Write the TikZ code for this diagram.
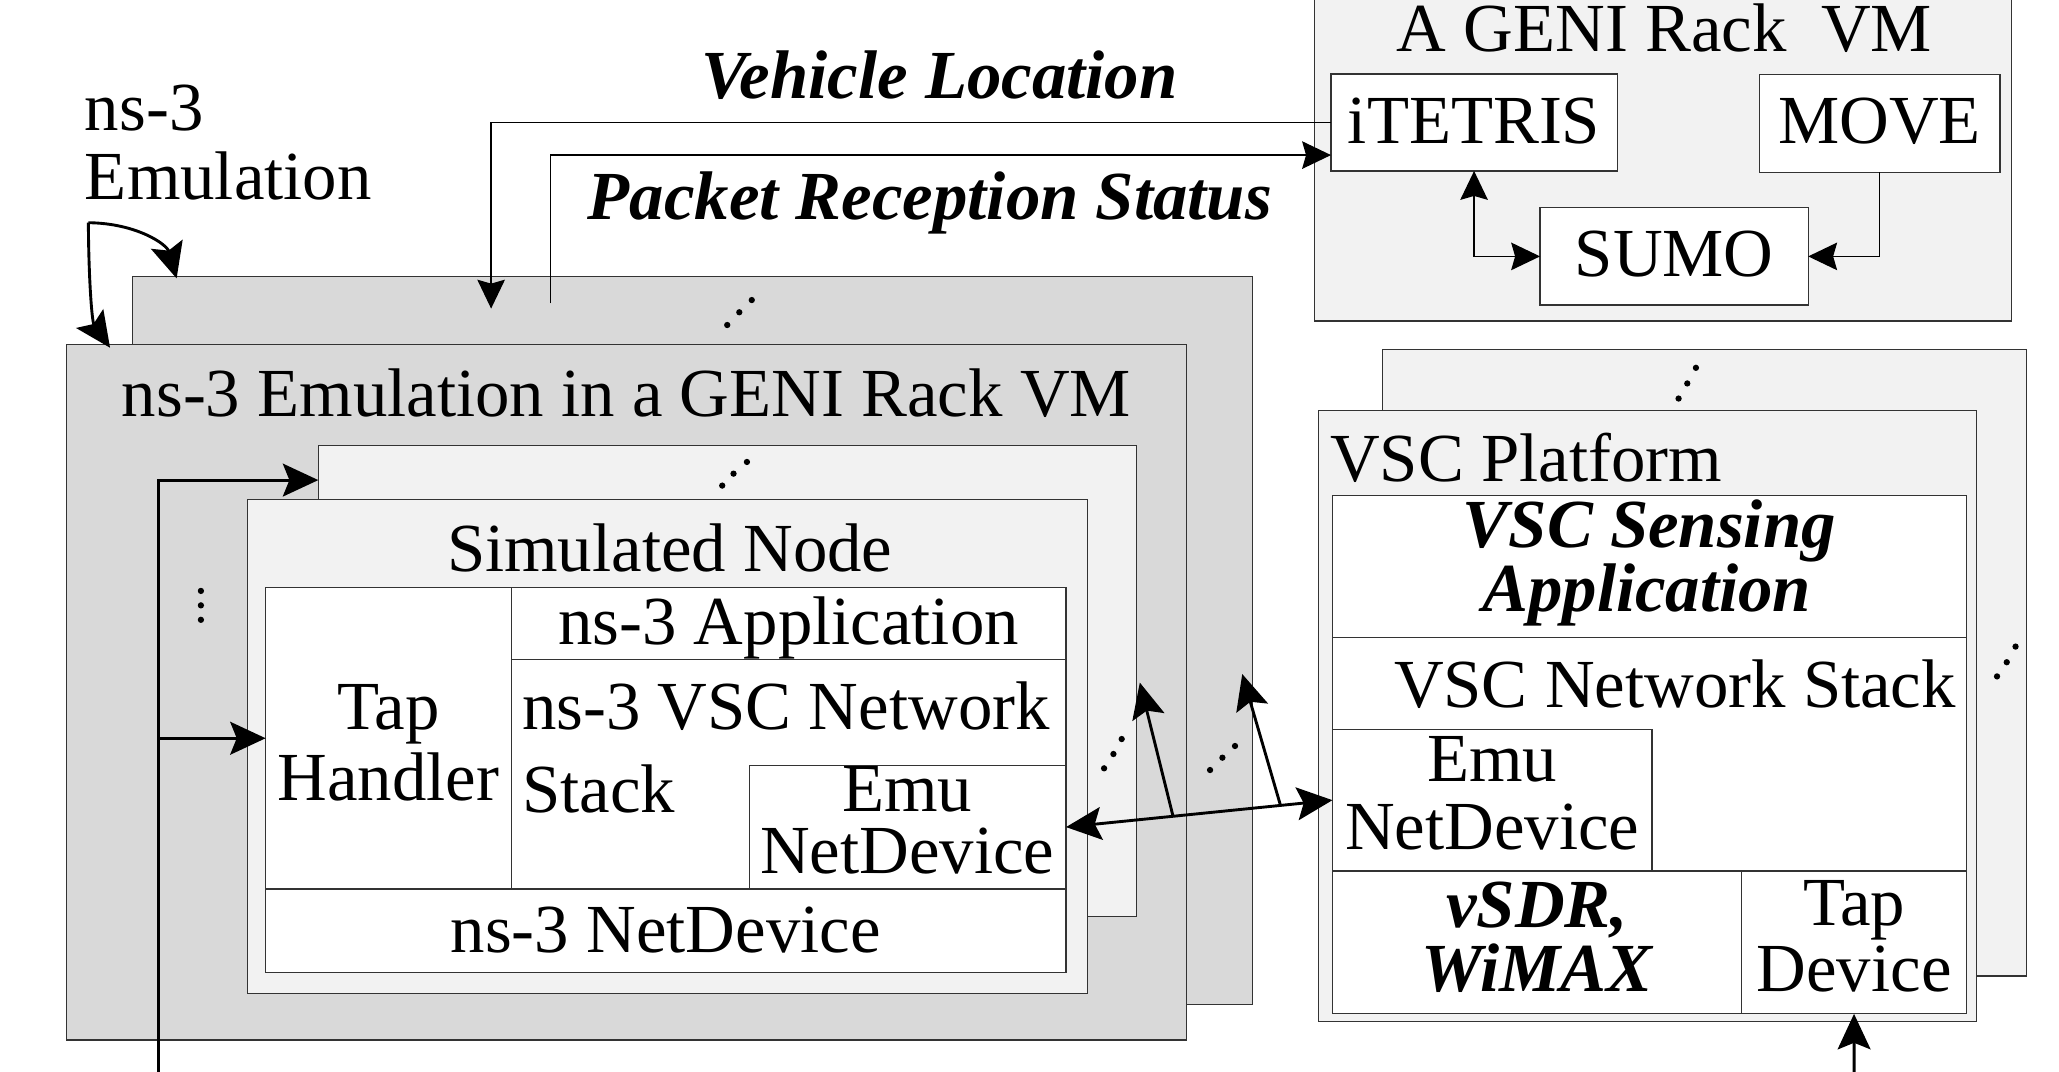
\documentclass[tikz,border=0pt]{standalone}
\usepackage{fontspec}
\setmainfont{Liberation Serif}
\usetikzlibrary{arrows.meta,calc}
\definecolor{bgA}{HTML}{D9D9D9}
\definecolor{bgB}{HTML}{F2F2F2}
\definecolor{edgecol}{HTML}{333333}
\newcommand{\bxn}[6]{\node[#1, minimum width={#5-#3}, minimum height={#6-#4}] (#2) at (#3,#4) {};}
\tikzset{
  box/.style={draw=edgecol, line width=0.9pt, inner sep=0pt, outer sep=0pt, anchor=north west},
  boxA/.style={box, fill=bgA},
  boxB/.style={box, fill=bgB},
  boxW/.style={box, fill=white},
  lbl/.style={font=\fontsize{52.4}{56}\selectfont, inner sep=0pt, outer sep=0pt, text=black},
  lblbi/.style={lbl, font=\fontsize{52.4}{56}\selectfont\bfseries\itshape},
  bigtip/.tip={Stealth[length=27pt, width=25pt, inset=5pt]},
  smalltip/.tip={Stealth[length=22pt, width=21pt, inset=3pt]},
  thickarr/.style={line width=2.2pt, draw=black, -bigtip},
  thinarr/.style={line width=1pt, draw=black, -smalltip},
  thinline/.style={line width=1pt, draw=black},
  dotmark/.style={fill=black}
}
\begin{document}
\begin{tikzpicture}[x=1pt, y=-1pt]
\useasboundingbox (0,0) rectangle (1568,816);
\fill[white] (0,0) rectangle (1568,816);

% ---------- ns-3 emulation VMs ----------
\bxn{boxA}{emuback}{100.8}{210.7}{953.6}{765}
\bxn{boxA}{emufront}{50.8}{262.2}{903.7}{792}
\node[lbl, anchor=base] (emutitle) at (477,317) {ns-3 Emulation in a GENI Rack VM};

% simulated nodes
\bxn{boxB}{simback}{242.4}{339.5}{865.6}{698}
\bxn{boxB}{simfront}{188.7}{380.2}{828}{756.7}
\node[lbl, anchor=base] (simtitle) at (510,435) {Simulated Node};

\bxn{boxW}{taph}{202.3}{447.4}{389.3}{677}
\bxn{boxW}{app}{389.3}{447.4}{811.8}{502}
\bxn{boxW}{stack}{389.3}{502}{811.8}{677}
\bxn{boxW}{emu}{570.5}{582.7}{811.8}{677}
\bxn{boxW}{netdev}{202.3}{677}{811.8}{740.8}

\node[lbl, anchor=base] (taph1) at (295.8,555.6) {Tap};
\node[lbl, anchor=base] (taph2) at (295.8,609.4) {Handler};
\node[lbl, anchor=base] (appt) at (600.5,490.5) {ns-3 Application};
\node[lbl, anchor=base west] (stack1) at (397.7,555.6) {ns-3 VSC Network};
\node[lbl, anchor=base west] (stack2) at (397.7,619) {Stack};
\node[lbl, anchor=base] (emu1) at (691,617.7) {Emu};
\node[lbl, anchor=base] (emu2) at (691,665) {NetDevice};
\node[lbl, anchor=base] (netdevt) at (507,725) {ns-3 NetDevice};

% ---------- GENI rack VM with iTETRIS ----------
\bxn{boxB}{geni}{1001}{-3}{1532}{244.5}
\node[lbl, anchor=base] (genit) at (1267.5,39.4) {A GENI Rack\ \ VM};
\bxn{boxW}{itetris}{1013.6}{56.4}{1231.5}{130.2}
\bxn{boxW}{move}{1339.6}{56.9}{1523}{131.2}
\bxn{boxW}{sumo}{1172.8}{158.2}{1377}{232.3}
\node[lbl, anchor=base] (itetrist) at (1122.5,109) {iTETRIS};
\node[lbl, anchor=base] (movet) at (1431.3,109) {MOVE};
\node[lbl, anchor=base] (sumot) at (1275,210.7) {SUMO};

\draw[thinline, smalltip-smalltip] (itetris.south) |- (sumo.west);
\draw[thinarr] (move.south) |- (sumo.east);

% ---------- VSC platforms ----------
\bxn{boxB}{vscback}{1052.7}{266.4}{1543}{743.3}
\bxn{boxB}{vscfront}{1004}{312.5}{1505}{778}
\node[lbl, anchor=base west] (vsct) at (1013,366.4) {VSC Platform};
\bxn{boxW}{vapp}{1014.7}{377.3}{1497.6}{485.3}
\bxn{boxW}{vstack}{1014.7}{485.3}{1497.6}{663.3}
\bxn{boxW}{vemu}{1014.7}{555.4}{1258}{663.3}
\bxn{boxW}{vsdr}{1014.7}{663.3}{1326.2}{772.1}
\bxn{boxW}{tapdev}{1326.2}{663.3}{1497.6}{772.1}

\node[lblbi, anchor=base, text depth=0pt] (vapp1) at (1256,417) {VSC Sensing};
\node[lblbi, anchor=base, text height=31pt] (vapp2) at (1254,466) {Application};
\node[lbl, anchor=base east] (vstackt) at (1489.5,539) {VSC Network Stack};
\node[lbl, anchor=base] (vemu1) at (1136.5,594.8) {Emu};
\node[lbl, anchor=base] (vemu2) at (1136.5,647) {NetDevice};
\node[lblbi, anchor=base] (vsdr1) at (1170.5,706.6) {vSDR,};
\node[lblbi, anchor=base] (vsdr2) at (1170.5,755.2) {WiMAX};
\node[lbl, anchor=base] (tapd1) at (1412,704.8) {Tap};
\node[lbl, anchor=base] (tapd2) at (1412,755.2) {Device};

% ---------- free labels ----------
\node[lbl, anchor=base west] (nsl1) at (64.7,99) {ns-3};
\node[lbl, anchor=base west] (nsl2) at (64.7,152.3) {Emulation};
\node[lblbi, anchor=base] (vehl) at (715.5,74.9) {Vehicle Location};
\node[lblbi, anchor=base] (pktl) at (708,167.5) {Packet Reception Status};

% ---------- connectors ----------
\coordinate (vl) at (374,235);
\coordinate (pr) at (419,231);
\draw[thinarr] (itetris.west) -| (vl);
\draw[thinarr] (pr) |- ([yshift=-24.8pt]itetris.west);

\coordinate (cs) at (67.3,169.6);
\coordinate (ctr) at (134.5,212);
\coordinate (cdn) at (83.8,264.8);
\draw[thickarr] (cs) .. controls (104,170) and (127,186) .. (ctr);
\draw[thickarr] (cs) .. controls (67.5,212) and (70,245) .. (cdn);

\coordinate (bl) at (120.7,830);
\draw[thickarr] (bl) |- ([yshift=-26.1pt]simback.north west);
\draw[thickarr] (bl |- taph.west) -- (taph.west);

\coordinate (br) at (1412,830);
\draw[thickarr] (br) -- (tapdev.south);

\draw[line width=2.2pt, bigtip-bigtip] (emu.east) -- (vemu.west);
\coordinate (b1) at ($(emu.east)!0.4017!(vemu.west)$);
\coordinate (b2) at ($(emu.east)!0.805!(vemu.west)$);
\coordinate (t1) at (868,519.8);
\coordinate (t2) at (946,513.3);
\draw[thickarr] (b1) -- (t1);
\draw[thickarr] (b2) -- (t2);

% ---------- ellipsis dots ----------
\foreach \px/\py in {153/450, 153/461, 153/472,
  550/369.8, 558.6/360.7, 568.8/351.8,
  553.8/247.5, 563/237.8, 572.5/228.5,
  840.8/585.1, 847.9/574.2, 854.2/562.8,
  921.5/586.4, 930.9/577, 940.5/568.1,
  1278.3/303.5, 1284.9/292, 1291.5/280.1,
  1520.8/515.1, 1528.2/504.3, 1534.9/492.4}
  \fill[dotmark] (\px,\py) circle[radius=2.4];
\end{tikzpicture}
\end{document}
